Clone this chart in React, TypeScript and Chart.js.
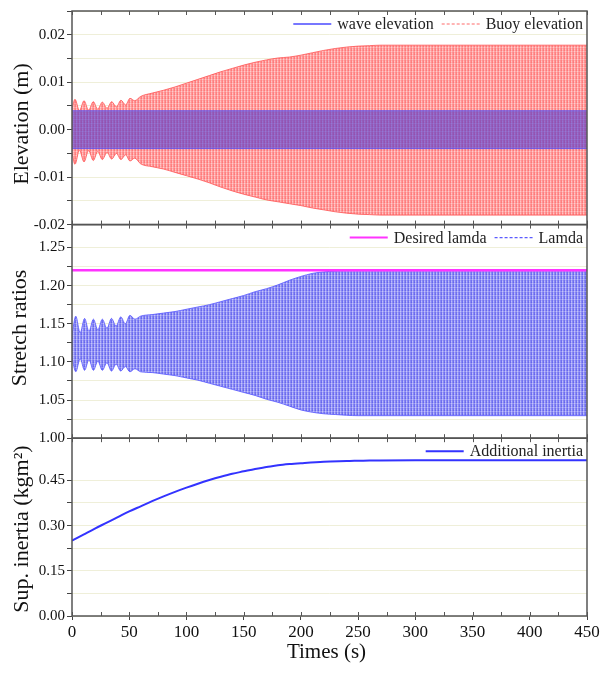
import { useEffect, useRef } from "react";
import { Chart, registerables } from "chart.js";

Chart.register(...registerables);

const FONT = "'Liberation Serif', 'Times New Roman', serif";

// ---- Panel 1: elevation (m) ----
const buoyTime = [0, 2.6, 6.5, 10.5, 14.5, 18.6, 22.5, 26.5, 30.6, 34.7, 38.7, 42.8, 46.8, 50.7, 54.8, 60, 70, 80, 90, 100, 110, 120, 130, 140, 150, 160, 170, 180, 190, 200, 210, 220, 230, 240, 250, 260, 270, 450];
const buoyUpper = [0.0045, 0.0064, 0.004, 0.0061, 0.0041, 0.0059, 0.0043, 0.0058, 0.0045, 0.0059, 0.0048, 0.0062, 0.0052, 0.0066, 0.0061, 0.007, 0.0077, 0.0083, 0.009, 0.0098, 0.0106, 0.0114, 0.0122, 0.0129, 0.0136, 0.0142, 0.0147, 0.0151, 0.0153, 0.0157, 0.0162, 0.0167, 0.0171, 0.0174, 0.0176, 0.0177, 0.0178, 0.0178];
const buoyLower = [-0.005, -0.0073, -0.0043, -0.0068, -0.0044, -0.0065, -0.0046, -0.0063, -0.0048, -0.0062, -0.005, -0.0063, -0.0053, -0.0066, -0.006, -0.0072, -0.0078, -0.0083, -0.009, -0.0097, -0.0104, -0.0112, -0.0121, -0.0129, -0.0136, -0.0142, -0.0148, -0.0152, -0.0156, -0.016, -0.0165, -0.0169, -0.0173, -0.0176, -0.0178, -0.0179, -0.018, -0.018];
const waveTime = [0, 450];
const waveUpper = [0.004, 0.004];
const waveLower = [-0.004, -0.004];

// ---- Panel 2: stretch ratios ----
const lamdaTime = [0, 3.3, 7.1, 11, 14.8, 18.7, 22.6, 26.5, 30.5, 34.5, 38.5, 42.6, 46.6, 50.6, 55, 60, 70, 80, 90, 100, 110, 120, 130, 140, 150, 160, 170, 180, 190, 200, 210, 220, 230, 240, 250, 450];
const lamdaUpper = [1.135, 1.16, 1.138, 1.157, 1.14, 1.156, 1.142, 1.156, 1.144, 1.157, 1.147, 1.159, 1.15, 1.161, 1.156, 1.16, 1.162, 1.164, 1.166, 1.169, 1.172, 1.175, 1.179, 1.183, 1.187, 1.192, 1.196, 1.201, 1.207, 1.212, 1.216, 1.218, 1.219, 1.2195, 1.2195, 1.2195];
const lamdaLower = [1.105, 1.087, 1.104, 1.089, 1.103, 1.089, 1.101, 1.089, 1.099, 1.088, 1.097, 1.088, 1.094, 1.087, 1.091, 1.087, 1.086, 1.084, 1.082, 1.079, 1.076, 1.072, 1.068, 1.064, 1.06, 1.056, 1.051, 1.047, 1.042, 1.037, 1.034, 1.032, 1.031, 1.03, 1.0295, 1.0295];
const desiredTime = [0, 450];
const desiredLamda = [1.22, 1.22];

// ---- Panel 3: additional inertia ----
const inertiaTime = [0, 10, 20, 30, 40, 50, 60, 70, 80, 90, 100, 110, 120, 130, 140, 150, 160, 170, 180, 190, 200, 220, 240, 260, 300, 450];
const inertiaValues = [0.25, 0.27, 0.29, 0.309, 0.328, 0.347, 0.364, 0.381, 0.397, 0.412, 0.426, 0.439, 0.451, 0.462, 0.472, 0.48, 0.488, 0.494, 0.5, 0.504, 0.507, 0.512, 0.514, 0.516, 0.517, 0.517];

// ---- tick / legend text ----
const xTickStep = 50;
const xMinorStep = 25;
const titleElevation = "Elevation (m)";
const titleStretch = "Stretch ratios";
const titleInertia = "Sup. inertia (kgm²)";
const titleTime = "Times (s)";
const legendElevation = ["wave elevation", "Buoy elevation"];
const legendStretch = ["Desired lamda", "Lamda"];
const legendInertia = ["Additional inertia"];

const pts = (xs: number[], ys: number[]) => xs.map((x, i) => ({ x, y: ys[i] }));

const isMultiple = (v: number, m: number) => Math.abs(Math.round(v / m) * m - v) < 1e-9;

function makePattern(rows: string[][]) {
  const c = document.createElement("canvas");
  c.width = rows[0].length;
  c.height = rows.length;
  const g = c.getContext("2d")!;
  rows.forEach((row, y) =>
    row.forEach((col, x) => {
      g.fillStyle = col;
      g.fillRect(x, y, 1, 1);
    })
  );
  return g.createPattern(c, "repeat")!;
}

const GRID = "rgba(225,225,185,0.55)";

function yAxis(min: number, max: number, step: number, major: number, weight: number) {
  return {
    type: "linear",
    position: "left",
    stack: "panels",
    stackWeight: weight,
    min,
    max,
    ticks: {
      stepSize: step,
      autoSkip: false,
      maxTicksLimit: 100,
      font: { family: FONT, size: 15 },
      color: "#111",
      padding: 2,
      callback: (v: any) => (isMultiple(Number(v), major) ? Number(v).toFixed(2) : ""),
    },
    grid: { color: GRID, tickColor: "#444", tickLength: 5, lineWidth: 1 },
    border: { display: false },
    afterFit: (s: any) => {
      s.width = 72;
    },
  };
}

type LegendItem = { label: string; color: string; dash: number[]; width: number };

const legends: Record<string, LegendItem[]> = {
  yE: [
    { label: legendElevation[0], color: "#4a4aff", dash: [], width: 1.5 },
    { label: legendElevation[1], color: "#ff6a6a", dash: [3, 2], width: 1.2 },
  ],
  yL: [
    { label: legendStretch[0], color: "#ff33ff", dash: [], width: 2 },
    { label: legendStretch[1], color: "#5a5aff", dash: [3, 2], width: 1.2 },
  ],
  yI: [{ label: legendInertia[0], color: "#3333ff", dash: [], width: 2 }],
};

const titles: { id: string; text: string; x: number; y: number }[] = [
  { id: "yE", text: titleElevation, x: 22, y: 124 },
  { id: "yL", text: titleStretch, x: 20, y: 328 },
  { id: "yI", text: titleInertia, x: 22, y: 529 },
];

const framePlugin = {
  id: "frame",
  afterDatasetsDraw(chart: any) {
    const { ctx, chartArea } = chart;
    const xs = chart.scales.x;
    ["yE", "yL", "yI"].forEach((id) => {
      const s = chart.scales[id];
      ctx.save();
      ctx.strokeStyle = "#555";
      ctx.lineWidth = 1.5;
      ctx.strokeRect(chartArea.left, s.top, chartArea.right - chartArea.left, s.bottom - s.top);
      ctx.lineWidth = 1;
      ctx.beginPath();
      for (let t = xs.min; t <= xs.max; t += xMinorStep) {
        const px = Math.round(xs.getPixelForValue(t)) + 0.5;
        ctx.moveTo(px, s.top);
        ctx.lineTo(px, s.top + 4);
        ctx.moveTo(px, s.bottom);
        ctx.lineTo(px, s.bottom - 4);
      }
      ctx.stroke();
      ctx.restore();
    });
  },
  afterDraw(chart: any) {
    const { ctx, chartArea } = chart;
    ctx.save();
    ctx.font = `16px ${FONT}`;
    ctx.textBaseline = "middle";
    ctx.fillStyle = "#222";
    const sample = 38;
    const gap = 6;
    const sep = 8;
    Object.keys(legends).forEach((id) => {
      const s = chart.scales[id];
      const items = legends[id];
      const y = s.top + 13;
      let total = 0;
      items.forEach((it, i) => {
        total += sample + gap + ctx.measureText(it.label).width + (i < items.length - 1 ? sep : 0);
      });
      let x = chartArea.right - 4 - total;
      items.forEach((it) => {
        ctx.save();
        ctx.strokeStyle = it.color;
        ctx.lineWidth = it.width;
        ctx.setLineDash(it.dash);
        ctx.beginPath();
        ctx.moveTo(x, y);
        ctx.lineTo(x + sample, y);
        ctx.stroke();
        ctx.restore();
        x += sample + gap;
        ctx.textAlign = "left";
        ctx.fillText(it.label, x, y + 1);
        x += ctx.measureText(it.label).width + sep;
      });
    });
    ctx.font = `22px ${FONT}`;
    ctx.fillStyle = "#111";
    ctx.textAlign = "center";
    titles.forEach((t) => {
      ctx.save();
      ctx.translate(t.x, t.y);
      ctx.rotate(-Math.PI / 2);
      ctx.fillText(t.text, 0, 0);
      ctx.restore();
    });
    ctx.font = `21px ${FONT}`;
    ctx.fillText(titleTime, (chartArea.left + chartArea.right) / 2 - 3, 652);
    ctx.restore();
  },
};

export default function App() {
  const ref = useRef<HTMLCanvasElement | null>(null);
  useEffect(() => {
    if (!ref.current) return;
    const redPattern = makePattern([
      ["#ff8080", "#ffb0b0", "#ff9090"],
      ["#ff8080", "#ffc4c4", "#ff9898"],
      ["#ff7878", "#ffb0b0", "#ff9090"],
      ["#ff9c9c", "#ffcccc", "#ffa8a8"],
    ]);
    const bluePattern = makePattern([
      ["#7070f0", "#a8a8f8", "#8484f2"],
      ["#7070f0", "#bcbcfa", "#8c8cf4"],
      ["#6666ee", "#a8a8f8", "#8484f2"],
      ["#9292f5", "#c4c4fb", "#a0a0f6"],
    ]);
    const line = { pointRadius: 0, pointHoverRadius: 0, cubicInterpolationMode: "monotone" };
    const chart = new Chart(ref.current, {
      type: "line",
      data: {
        datasets: [
          { ...line, data: pts(buoyTime, buoyUpper), yAxisID: "yE", borderColor: "rgba(255,90,90,0.85)", borderWidth: 1, fill: false, order: 10 },
          { ...line, data: pts(buoyTime, buoyLower), yAxisID: "yE", borderColor: "rgba(255,90,90,0.85)", borderWidth: 1, fill: 0, backgroundColor: redPattern, order: 10 },
          { ...line, data: pts(waveTime, waveUpper), yAxisID: "yE", borderColor: "rgba(80,80,255,0.7)", borderWidth: 1, fill: false, order: 5 },
          { ...line, data: pts(waveTime, waveLower), yAxisID: "yE", borderColor: "rgba(80,80,255,0.7)", borderWidth: 1, fill: 2, backgroundColor: "rgba(60,50,220,0.55)", order: 5 },
          { ...line, data: pts(lamdaTime, lamdaUpper), yAxisID: "yL", borderColor: "rgba(90,90,255,0.85)", borderWidth: 1, fill: false, order: 10 },
          { ...line, data: pts(lamdaTime, lamdaLower), yAxisID: "yL", borderColor: "rgba(90,90,255,0.85)", borderWidth: 1, fill: 4, backgroundColor: bluePattern, order: 10 },
          { ...line, data: pts(desiredTime, desiredLamda), yAxisID: "yL", borderColor: "#ff33ff", borderWidth: 2.5, fill: false, order: 1 },
          { ...line, data: pts(inertiaTime, inertiaValues), yAxisID: "yI", borderColor: "#3333ff", borderWidth: 2, fill: false, order: 1 },
        ] as any,
      },
      options: {
        animation: false,
        responsive: false,
        devicePixelRatio: 1,
        events: [],
        layout: { padding: { top: 7, right: 15, left: 0, bottom: 0 } },
        plugins: { legend: { display: false }, tooltip: { enabled: false } },
        scales: {
          x: {
            type: "linear",
            min: 0,
            max: 450,
            ticks: { stepSize: xTickStep, font: { family: FONT, size: 17 }, color: "#111", padding: 2, maxRotation: 0 },
            grid: { drawOnChartArea: false, tickColor: "#444", tickLength: 4 },
            border: { display: false },
            afterFit: (s: any) => {
              s.height = 57;
            },
          },
          yI: yAxis(0, 0.59, 0.075, 0.15, 179),
          yL: yAxis(1.0, 1.28, 0.025, 0.05, 215),
          yE: yAxis(-0.02, 0.025, 0.005, 0.01, 215),
        } as any,
      },
      plugins: [framePlugin],
    });
    return () => chart.destroy();
  }, []);
  return (
    <div style={{ position: "absolute", left: 0, top: 0, width: 602, height: 673, background: "#fff" }}>
      <canvas ref={ref} width={602} height={673} style={{ display: "block" }} />
    </div>
  );
}
